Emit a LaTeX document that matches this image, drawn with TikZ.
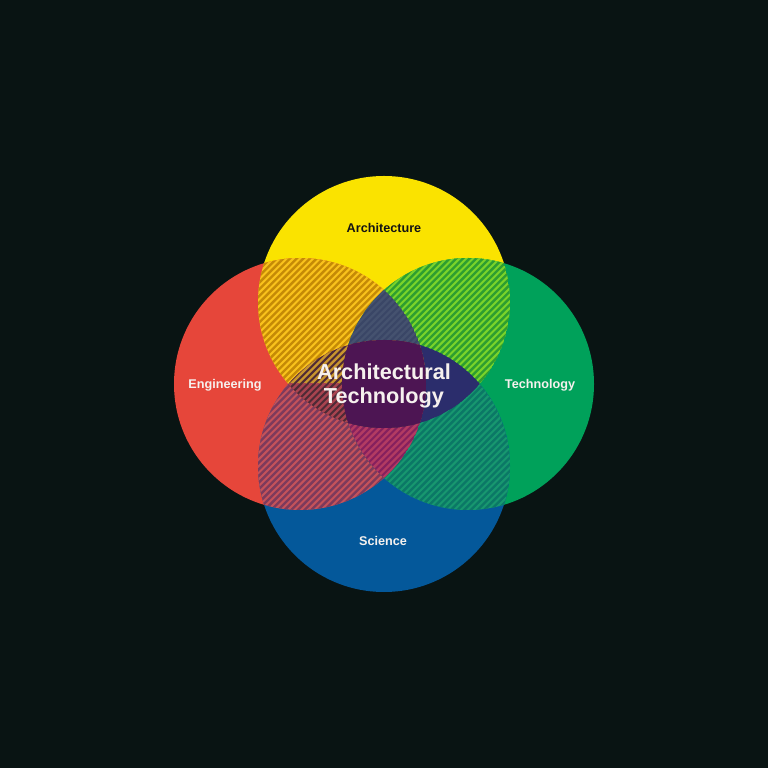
\documentclass[tikz,border=0pt]{standalone}
\usepackage{fontspec}
\setmainfont{Liberation Sans}
\usepackage{xcolor}
\usetikzlibrary{positioning}

\definecolor{bgdark}{HTML}{091413}
\definecolor{archyellow}{HTML}{FAE300}
\definecolor{engred}{HTML}{E6463A}
\definecolor{techgreen}{HTML}{00A15A}
\definecolor{sciblue}{HTML}{04589A}
\definecolor{yrbase}{HTML}{F9C21C}
\definecolor{yrink}{HTML}{C58A06}
\definecolor{ygbase}{HTML}{7AD32A}
\definecolor{ygink}{HTML}{2E9E30}
\definecolor{rbbase}{HTML}{C4525A}
\definecolor{rbink}{HTML}{7D3A5C}
\definecolor{gbbase}{HTML}{17976F}
\definecolor{gbink}{HTML}{0B7866}
\definecolor{slate}{HTML}{3A4666}
\definecolor{slateink}{HTML}{45526F}
\definecolor{magenta}{HTML}{86205E}
\definecolor{magentaink}{HTML}{B23B62}
\definecolor{leftbase}{HTML}{4E2A36}
\definecolor{leftinkup}{HTML}{C8952E}
\definecolor{leftinkdown}{HTML}{A8434F}
\definecolor{navy}{HTML}{2B2D6C}
\definecolor{corepurple}{HTML}{4D1553}
\definecolor{labelwhite}{HTML}{F6F1EE}
\definecolor{labeldark}{HTML}{141414}

\begin{document}
\begin{tikzpicture}[x=0.03cm,y=0.03cm,
    ringlabel/.style={font=\fontsize{10.8}{13}\selectfont\bfseries, text=labelwhite},
    stripes/.style={line width=2pt}]
    % Canvas
    \fill [bgdark] (-384,-384) rectangle (384,384);
    \useasboundingbox (-384,-384) rectangle (384,384);

    % Circle centres
    \coordinate (arch) at (0,82);
    \coordinate (sci) at (0,-82);
    \coordinate (eng) at (-84,0);
    \coordinate (tech) at (84,0);

    % Main circles
    \fill [archyellow] (arch) circle (126);
    \fill [engred] (eng) circle (126);
    \fill [techgreen] (tech) circle (126);
    \fill [sciblue] (sci) circle (126);

    % Hatched overlaps of two circles
    \foreach \p/\q/\base/\ink in {arch/eng/yrbase/yrink, arch/tech/ygbase/ygink,
                                  sci/eng/rbbase/rbink, sci/tech/gbbase/gbink} {
        \begin{scope}
            \clip (\p) circle (126);
            \clip (\q) circle (126);
            \fill [\base] (\p) circle (126);
            \foreach \i in {-64,...,64}
                \draw [\ink, stripes] (-220+\i*6.65,-220) -- (220+\i*6.65,220);
        \end{scope}
    }

    % Overlaps of three circles
    \foreach \p/\q/\r/\base/\ink in {eng/tech/arch/slate/slateink,
                                     eng/tech/sci/magenta/magentaink,
                                     arch/sci/tech/navy/navy} {
        \begin{scope}
            \clip (\p) circle (126);
            \clip (\q) circle (126);
            \clip (\r) circle (126);
            \fill [\base] (\p) circle (126);
            \foreach \i in {-64,...,64}
                \draw [\ink, stripes] (-220+\i*6.65,-220) -- (220+\i*6.65,220);
        \end{scope}
    }
    \begin{scope}
        \clip (arch) circle (126);
        \clip (sci) circle (126);
        \clip (eng) circle (126);
        \fill [leftbase] (eng) circle (126);
        \foreach \i in {-64,...,64} {
            \begin{scope}
                \clip (-220,0) rectangle (220,220);
                \draw [leftinkup, stripes] (-220+\i*6.65,-220) -- (220+\i*6.65,220);
            \end{scope}
            \begin{scope}
                \clip (-220,-220) rectangle (220,0);
                \draw [leftinkdown, stripes] (-220+\i*6.65,-220) -- (220+\i*6.65,220);
            \end{scope}
        }
    \end{scope}

    % Core
    \begin{scope}
        \clip (arch) circle (126);
        \clip (sci) circle (126);
        \clip (eng) circle (126);
        \clip (tech) circle (126);
        \fill [corepurple] (arch) circle (126);
    \end{scope}

    % Labels
    \node [ringlabel, text=labeldark] (archlabel) at (0,156) {Architecture};
    \node [ringlabel] (englabel) at (-159,-1) {Engineering};
    \node [ringlabel] (techlabel) at (156,-1) {Technology};
    \node [ringlabel] (scilabel) at (-1,-157) {Science};
    \node [align=center, text=labelwhite, font=\fontsize{18.5}{20.3}\selectfont\bfseries]
        (core) at (0,-2) {Architectural\\Technology};
\end{tikzpicture}
\end{document}
